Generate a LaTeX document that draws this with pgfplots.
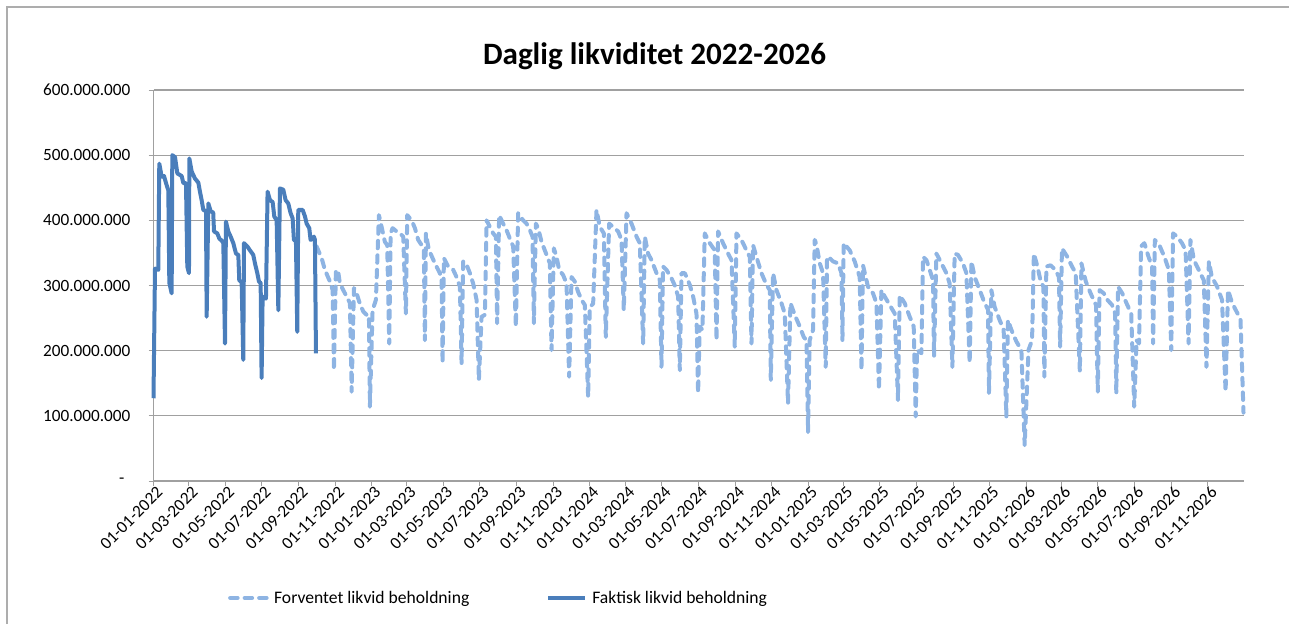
\documentclass[border=0pt]{standalone}
\usepackage{pgfplots}
\pgfplotsset{compat=1.18}
\usepackage{fontspec}
\setmainfont{Carlito}
\definecolor{fc}{HTML}{8EB4E3}
\definecolor{ac}{HTML}{4A7EBB}
\definecolor{gridc}{HTML}{A0A0A0}
\definecolor{framec}{HTML}{ADADAD}
\begin{document}
\begin{tikzpicture}
\path[use as bounding box] (0,0) rectangle (1289pt,624pt);
\draw[framec, line width=1.5pt] (7pt,0pt) -- (7pt,617pt) -- (1289pt,617pt);
\node[anchor=base, font=\fontsize{31.1}{36}\selectfont\bfseries] at (654.5pt,559.7pt) {Daglig likviditet 2022-2026};
\begin{axis}[
 at={(153.5pt,143pt)}, anchor=south west,
 scale only axis, width=1090pt, height=391pt,
 xmin=0, xmax=1825, ymin=0, ymax=600,
 clip=false,
 axis lines*=left, axis line style={-, draw=gridc, line width=1.2pt},
 ymajorgrids, grid style={draw=gridc, line width=1.2pt},
 tick align=outside, major tick length=5pt, tick style={draw=gridc, line width=1pt},
 ytick={0,100,200,300,400,500,600},
 yticklabels={-\hspace*{6pt},100.000.000,200.000.000,300.000.000,400.000.000,500.000.000,600.000.000},
 yticklabel style={font=\fontsize{17.2}{20}\selectfont, anchor=east, inner sep=0pt, xshift=-18pt},
 xtick={0,59,120,181,243,304,365,424,485,546,608,669,730,790,851,912,974,1035,1096,1155,1216,1277,1339,1400,1461,1520,1581,1642,1704,1765},
 xticklabels={01-01-2022,01-03-2022,01-05-2022,01-07-2022,01-09-2022,01-11-2022,01-01-2023,01-03-2023,01-05-2023,01-07-2023,01-09-2023,01-11-2023,01-01-2024,01-03-2024,01-05-2024,01-07-2024,01-09-2024,01-11-2024,01-01-2025,01-03-2025,01-05-2025,01-07-2025,01-09-2025,01-11-2025,01-01-2026,01-03-2026,01-05-2026,01-07-2026,01-09-2026,01-11-2026},
 xticklabel style={font=\fontsize{17.2}{20}\selectfont, rotate=45, anchor=east, inner sep=1pt, xshift=3pt, yshift=-7pt},
 legend style={at={(0.0683,-0.299)}, anchor=west, draw=none, fill=none, legend columns=2,
   font=\fontsize{17.6}{20}\selectfont, inner sep=0pt,
   /tikz/every even column/.append style={column sep=75pt}},
 legend image code/.code={\draw[#1] (0pt,0pt) -- (37pt,0pt); \path (40pt,0pt);},
]
\addplot[fc, line width=4pt, dash pattern=on 7.5pt off 7pt, line cap=round, line join=round, no markers] table {
x y
273 360
281.5 342
287 324
295.4 306
299.9 293
302.1 170
305.4 324
309.3 321
312.1 303
317.7 293
323.3 283
328.9 273
331.7 137
335.6 296
340.1 288
344.5 275
351.2 260
356.8 255
360.7 255
362.3 114
366.8 262
372.4 278
377.4 408
381.9 390
387.4 367
391.3 362
394.7 211
397 380
400.3 388
407 383
412.6 380
418.1 375
422.6 257
424.8 408
432.1 400
437.7 388
443.2 370
448.9 362
452.7 354
454.4 216
456.1 380
459.9 360
463.9 349
471.1 334
478.3 321
482.3 313
484 181
486.2 342
493.4 329
501.8 324
507.4 313
513 298
515.8 181
518.5 337
524.2 332
529.7 319
535.2 303
540.9 278
544.8 155
549.3 252
554.8 255
557.7 400
563.2 390
568.7 380
573.2 375
575.4 242
578.7 408
585.4 395
591.1 385
596.7 372
602.2 360
606.7 237
610.5 411
618.9 400
624.6 395
630.1 385
634.6 375
636.8 242
640.2 395
644 388
649.7 367
658.1 347
663.6 334
666.4 201
670.3 357
674.8 344
679.2 324
685.9 316
691.5 303
695.9 160
699.9 313
705.4 306
711 290
716.7 278
722.2 270
727.7 129
730.5 267
736.1 272
741.7 416
747.3 390
754 380
757.3 221
762.9 395
769.5 390
777.9 383
783.6 370
787.4 262
792 411
800.3 395
808.7 375
814.2 365
819.8 211
822.6 375
828.1 349
833.8 339
842.2 319
847.7 308
850.5 175
853.2 329
858.9 324
867.3 311
872.8 300
878.4 283
881.2 170
884 319
889.5 319
897.9 301
903.5 283
909.1 257
911.8 135
914.6 237
919.1 232
923 380
931.4 365
939.7 354
942.6 216
945.3 383
953.6 365
962 349
967.7 339
973.2 206
976.1 380
984.4 370
992.8 354
998.3 344
1001.2 211
1003.8 362
1009.5 344
1017.9 319
1026.3 301
1031.8 293
1033.5 155
1037.3 319
1043 293
1051.4 273
1056.9 257
1062.4 119
1066.4 273
1073.6 255
1082 237
1088.7 221
1093.2 216
1095.9 75
1098.7 216
1104.3 232
1107.1 370
1110 363
1115.5 334
1121 319
1125.5 175
1127.7 344
1132.2 342
1137.7 337
1146.1 334
1151.8 319
1153.5 216
1155.6 365
1165.7 354
1174 337
1182.4 313
1185.3 170
1187.9 331
1196.3 298
1204.7 288
1210.4 273
1214.7 140
1218.7 293
1224.3 283
1232.6 270
1241 257
1246.5 124
1249.4 285
1257.7 273
1266.1 252
1272.8 237
1276.2 99
1278.3 201
1285.7 196
1288.4 344
1294.1 339
1299.6 324
1305.1 308
1306.8 191
1310.8 349
1319.2 334
1327.5 319
1333 303
1337.6 175
1341.4 349
1346.9 347
1355.3 334
1361 319
1366.5 181
1369.4 337
1374.9 313
1383.3 293
1391.6 273
1397.2 263
1398.8 135
1402.8 293
1408.4 267
1416.7 247
1423.4 232
1427.9 99
1430.6 247
1436.3 232
1444.7 214
1453.1 201
1458.6 55
1465 201
1471 216
1474 349
1480 329
1485 308
1490 298
1491.6 160
1495 329
1502 331
1510 324
1516 313
1518 206
1521 357
1530 344
1538 329
1544 319
1551 168
1553.6 334
1561 306
1569 288
1578 270
1581 137
1584 293
1591 288
1597 278
1605 270
1610 257
1612 135
1615 298
1622 288
1629 273
1637 257
1642 114
1646 216
1650 211
1653.6 360
1659 365
1666 344
1672 329
1673.7 211
1676.5 370
1685 360
1692.5 344
1700 324
1704 201
1707 380
1714 375
1722 365
1728 354
1733 211
1736 370
1742 339
1750 324
1758.5 308
1763 175
1767 337
1772 313
1781 298
1789 278
1795 137
1799 293
1806 273
1815 257
1820 247
1825 105
};
\addlegendentry{Forventet likvid beholdning}
\addplot[ac, line width=4pt, line join=round, no markers] table {
x y
0 127
2.5 326
8 324
9.7 487
13.7 467
17.6 468
21 457
24.8 446
26.5 304
30.4 288
31.5 500
36 497
39.9 472
47.2 468
50 457
54.4 457
56.6 329
59.4 319
60 495
63.9 475
69.5 464
75 458
77.8 444
80.6 431
83.4 416
87.9 414
89 252
91.8 426
95.7 414
100 412
101.3 383
106.8 380
110.2 372
114.1 369
116.9 365
119.7 211
121.3 398
125.2 383
129.2 375
133.6 365
138.1 349
142 347
143.6 308
147.6 305
150.3 186
151.5 365
157 360
161.5 354
167 347
169.9 334
173.8 319
176.6 306
179.4 304
181 158
182.7 283
188.3 280
191 444
195 431
199.5 428
202.2 406
206.2 400
209 262
211.7 449
217.3 447
221.2 431
225.6 426
229.6 411
233 403
235.1 370
238.5 368
240.7 229
242.4 416
249.7 416
253.6 406
256.4 395
260.8 388
263 370
266.4 372
268.6 375
270.3 370
272 196
};
\addlegendentry{Faktisk likvid beholdning}
\end{axis}
\end{tikzpicture}
\end{document}
